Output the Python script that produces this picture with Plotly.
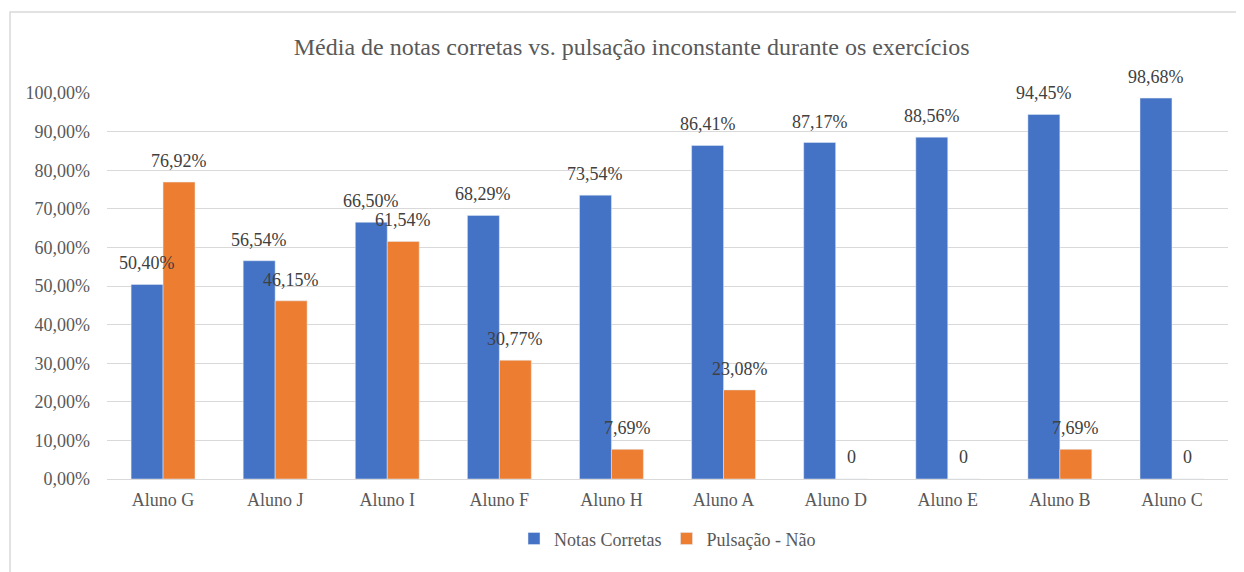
"""Média de notas corretas vs. pulsação inconstante"""

import plotly.graph_objects as go

alunos = [
    "Aluno G", "Aluno J", "Aluno I", "Aluno F", "Aluno H",
    "Aluno A", "Aluno D", "Aluno E", "Aluno B", "Aluno C",
]
notas_corretas = [0.5040, 0.5654, 0.6650, 0.6829, 0.7354, 0.8641, 0.8717, 0.8856, 0.9445, 0.9868]
pulsacao_nao = [0.7692, 0.4615, 0.6154, 0.3077, 0.0769, 0.2308, 0, 0, 0.0769, 0]

FONT = "'Times New Roman', 'Liberation Serif', serif"
GREY = "#595959"


def fmt(v):
    # Excel mostra "0" para zeros e percentuais com vírgula
    if v == 0:
        return "0"
    return f"{v * 100:.2f}%".replace(".", ",")


fig = go.Figure()
fig.add_trace(go.Bar(x=alunos, y=notas_corretas, name="Notas Corretas", marker_color="#4472C4"))
fig.add_trace(go.Bar(x=alunos, y=pulsacao_nao, name="Pulsação - Não", marker_color="#ED7D31"))

# data labels above each bar
for values, shift in [(notas_corretas, -16), (pulsacao_nao, 16)]:
    for cat, v in zip(alunos, values):
        fig.add_annotation(
            x=cat, y=v, xref="x", yref="y",
            text=fmt(v), showarrow=False,
            xshift=shift, yshift=9 if v else 10,
            yanchor="bottom",
            font=dict(family=FONT, size=18, color="#404040"),
        )

# chart border (Excel frame)
fig.add_shape(
    type="rect", xref="paper", yref="paper",
    x0=-0.0865, x1=1.2, y0=-0.5, y1=1.2098,
    line=dict(color="#d9d9d9", width=1.5), layer="below",
)

fig.update_layout(
    width=1236,
    height=564,
    separators=",.",
    title=dict(
        text="Média de notas corretas vs. pulsação inconstante durante os exercícios",
        x=0.468, xref="paper", xanchor="center",
        y=0.931, yanchor="middle",
        font=dict(family=FONT, size=24, color=GREY),
    ),
    barmode="group",
    bargap=0.43,
    bargroupgap=0,
    plot_bgcolor="white",
    paper_bgcolor="white",
    margin=dict(l=99, r=16, t=85, b=93),
    font=dict(family=FONT, size=18, color=GREY),
    xaxis=dict(
        showgrid=False, showline=False, ticks="", ticklabelstandoff=8,
        tickfont=dict(family=FONT, size=18, color=GREY),
    ),
    yaxis=dict(
        range=[0, 1.0], dtick=0.1, tickformat=".2%",
        showgrid=True, gridcolor="#d9d9d9", gridwidth=1.3,
        zeroline=True, zerolinecolor="#d9d9d9", zerolinewidth=1.3,
        ticks="", ticklabelstandoff=16,
        tickfont=dict(family=FONT, size=18, color=GREY),
    ),
    legend=dict(
        orientation="h", x=0.5, xanchor="center", y=-0.155, yanchor="middle",
        font=dict(family=FONT, size=18, color=GREY),
        itemwidth=30,
    ),
    showlegend=True,
)

fig.write_html("out.html")
